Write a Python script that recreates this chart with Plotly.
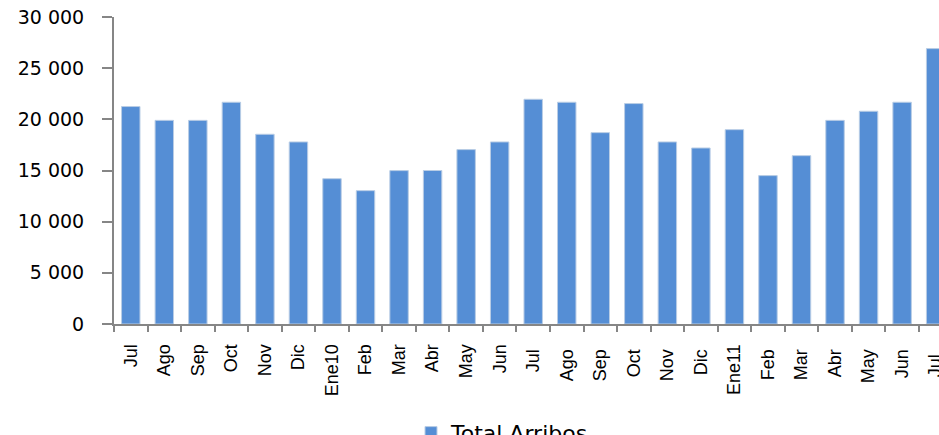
import plotly.graph_objects as go

categories = ["Jul", "Ago", "Sep", "Oct", "Nov", "Dic", "Ene10", "Feb", "Mar", "Abr", "May", "Jun",
              "Jul ", "Ago ", "Sep ", "Oct ", "Nov ", "Dic ", "Ene11", "Feb ", "Mar ", "Abr ", "May ", "Jun ", "Jul  "]
total_arribos = [21250, 19900, 19900, 21670, 18540, 17790, 14200, 13030, 14990, 15000, 17040, 17790,
                 21960, 21670, 18700, 21540, 17790, 17200, 18990, 14500, 16450, 19900, 20790, 21670, 26910]
y_ticks = [0, 5000, 10000, 15000, 20000, 25000, 30000]

fig = go.Figure()
fig.add_trace(go.Bar(
    x=categories, y=total_arribos, name="Total Arribos",
    marker=dict(color="#558ED5", line=dict(color="#B9CDE5", width=1)),
    width=0.55,
))

fig.update_layout(
    width=939, height=435,
    margin=dict(l=114, r=0, t=17, b=111, autoexpand=False),
    paper_bgcolor="white", plot_bgcolor="white",
    separators=", ",
    showlegend=True,
    legend=dict(orientation="h", x=0.36, xanchor="left", y=-0.286, yanchor="top",
                font=dict(family="DejaVu Sans", size=22, color="#000000")),
    font=dict(family="Liberation Sans, Arial", color="#000000"),
)
fig.update_xaxes(
    type="category", automargin=False,
    range=[-0.5, 24.1],
    showline=True, linecolor="#868686", linewidth=2,
    ticks="outside", tickson="boundaries", ticklen=6, tickcolor="#868686", tickwidth=2,
    tickangle=-90, ticklabelstandoff=11,
    tickfont=dict(family="Liberation Sans, Arial", size=18, color="#000000"),
    showgrid=False, zeroline=False,
)
fig.update_yaxes(
    range=[0, 30000], automargin=False,
    tickvals=y_ticks, tickformat=",d",
    showline=True, linecolor="#868686", linewidth=2,
    ticks="outside", ticklen=10, tickcolor="#868686", tickwidth=2,
    ticklabelstandoff=14,
    tickfont=dict(family="DejaVu Sans", size=19, color="#000000"),
    showgrid=False, zeroline=False,
)

fig.write_html("out.html", config={"displayModeBar": False},
               post_script="document.body.style.margin='0';document.body.style.overflow='hidden';")
